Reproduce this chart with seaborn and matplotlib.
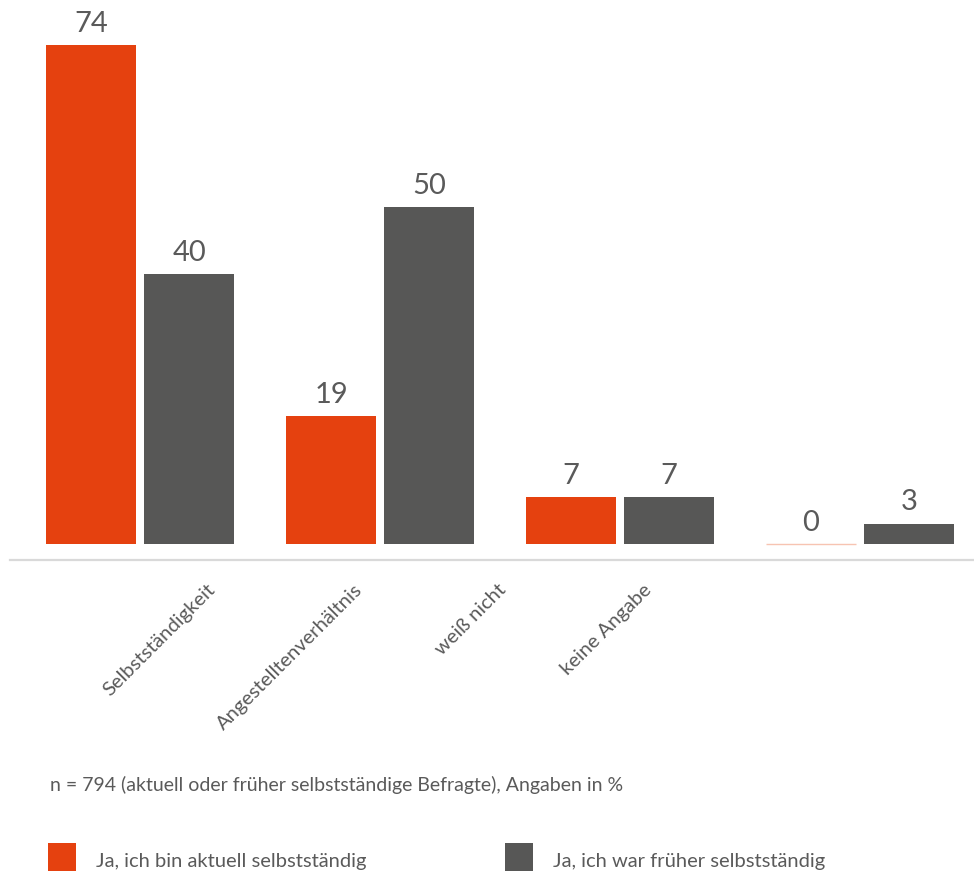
import matplotlib
matplotlib.use("Agg")
import matplotlib.pyplot as plt
from matplotlib.patches import Rectangle
import pandas as pd
import seaborn as sns

# Survey answers, values in percent
categories = ["Selbstständigkeit", "Angestelltenverhältnis", "weiß nicht", "keine Angabe"]
series_names = ["Ja, ich bin aktuell selbstständig", "Ja, ich war früher selbstständig"]
current_values = [74, 19, 7, 0]
former_values = [40, 50, 7, 3]
note_text = "n = 794 (aktuell oder früher selbstständige Befragte), Angaben in %"

colors = ["#E5410F", "#575756"]
text_color = "#5a5a5a"

df = pd.DataFrame({
    "Kategorie": categories * 2,
    "Gruppe": [series_names[0]] * len(categories) + [series_names[1]] * len(categories),
    "Wert": current_values + former_values,
})

sns.set_theme(style="white")
plt.rcParams["font.family"] = ["Lato", "Open Sans", "DejaVu Sans"]

fig = plt.figure(figsize=(9.74, 8.76), dpi=100)
ax = fig.add_axes([10 / 974, 316 / 876, 964 / 974, 560 / 876])

sns.barplot(
    data=df, x="Kategorie", y="Wert", hue="Gruppe",
    order=categories, hue_order=series_names,
    palette=colors, width=0.817, gap=0.09,
    saturation=1, legend=False, ax=ax, linewidth=0,
)

ax.set_xlim(-0.542, 3.475)
ax.set_ylim(-2.37, 80.7)

# value labels above each bar
for container, vals in zip(ax.containers, [current_values, former_values]):
    ax.bar_label(container, labels=[str(v) for v in vals], padding=6,
                 fontsize=21, color=text_color)

# a zero-height bar still shows as a faint line on the baseline
for p in ax.patches:
    if p.get_height() == 0:
        p.set_edgecolor("#f7c4b2")
        p.set_linewidth(1.0)

# x axis: only the light baseline and angled category labels
for side in ["top", "right", "left"]:
    ax.spines[side].set_visible(False)
ax.spines["bottom"].set_color("#d9d9d9")
ax.spines["bottom"].set_linewidth(1.6)
ax.set_yticks([])
ax.set_ylabel("")
ax.set_xlabel("")
ax.set_xticks([0.325, 0.94, 1.54, 2.145])
ax.set_xticklabels(categories, rotation=45, ha="right",
                   fontsize=14.5, color=text_color)
ax.tick_params(axis="x", length=0, pad=15)

# footnote
fig.text(50 / 974, 1 - 785 / 876, note_text, fontsize=14, color=text_color,
         va="center", ha="left")

# legend: colour squares with series names
legend_x = [48, 505]
for x0, name, col in zip(legend_x, series_names, colors):
    fig.add_artist(Rectangle((x0 / 974, 1 - 871 / 876), 28 / 974, 28 / 876,
                             transform=fig.transFigure, facecolor=col,
                             edgecolor="none"))
    fig.text((x0 + 48) / 974, 1 - 862 / 876, name, fontsize=14.5,
             color=text_color, va="center", ha="left")

fig.savefig("out.png", dpi=100)
